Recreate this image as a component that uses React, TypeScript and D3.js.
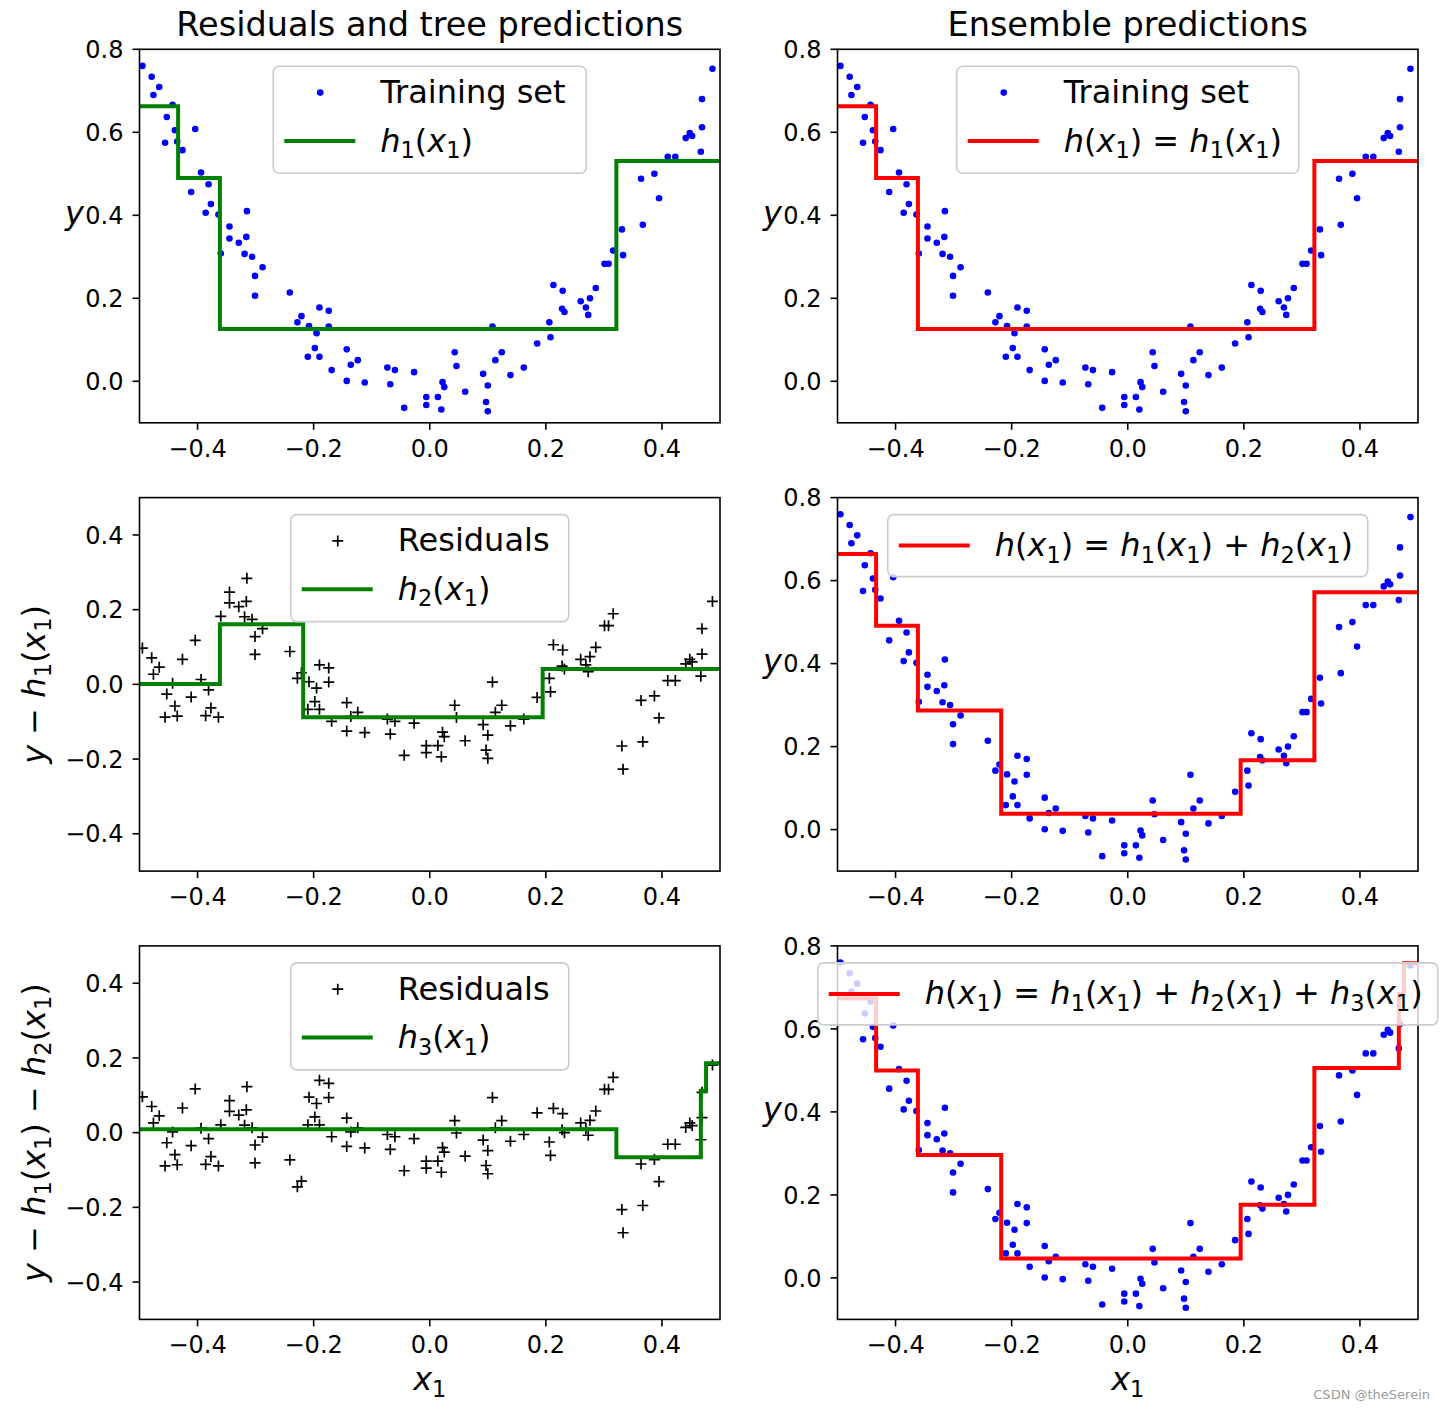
import React from "react";
import * as d3 from "d3";

// ---------- data ----------
const trainX = [
  -0.495, -0.479, -0.466, -0.476, -0.453, -0.439, -0.404, -0.456, -0.435, -0.426,
  -0.394, -0.381, -0.411, -0.377, -0.386, -0.364, -0.315, -0.345, -0.345, -0.329,
  -0.316, -0.36, -0.319, -0.306, -0.288, -0.301, -0.301, -0.241, -0.19, -0.174,
  -0.221, -0.228, -0.208, -0.174, -0.195, -0.198, -0.21, -0.19, -0.169, -0.143,
  -0.124, -0.136, -0.143, -0.112, -0.073, -0.06, -0.068, -0.027, -0.044, -0.006,
  -0.006, 0.014, 0.02, 0.022, 0.025, 0.043, 0.046, 0.061, 0.092, 0.1,
  0.097, 0.1, 0.108, 0.113, 0.124, 0.139, 0.162, 0.185, 0.208, 0.206,
  0.213, 0.229, 0.228, 0.232, 0.26, 0.276, 0.269, 0.273, 0.286, 0.301,
  0.308, 0.316, 0.333, 0.487, 0.469, 0.469, 0.441, 0.448, 0.452, 0.467,
  0.41, 0.423, 0.364, 0.387, 0.395, 0.367, 0.331, -0.443,
];
const trainY = [
  0.76, 0.734, 0.709, 0.69, 0.637, 0.605, 0.608, 0.575, 0.578, 0.557,
  0.503, 0.475, 0.456, 0.427, 0.406, 0.402, 0.41, 0.373, 0.344, 0.334,
  0.348, 0.308, 0.307, 0.3, 0.275, 0.254, 0.206, 0.214, 0.178, 0.17,
  0.157, 0.142, 0.133, 0.132, 0.116, 0.08, 0.059, 0.059, 0.027, 0.077,
  0.051, 0.04, 0.001, -0.003, 0.033, 0.027, -0.007, 0.022, -0.064, -0.038,
  -0.057, -0.038, -0.068, -0.002, -0.014, 0.07, 0.037, -0.025, 0.018, -0.01,
  -0.05, -0.072, 0.132, 0.051, 0.07, 0.015, 0.033, 0.091, 0.106, 0.142,
  0.232, 0.218, 0.175, 0.167, 0.193, 0.2, 0.178, 0.16, 0.225, 0.283,
  0.283, 0.315, 0.304, 0.753, 0.68, 0.612, 0.586, 0.598, 0.591, 0.553,
  0.541, 0.541, 0.488, 0.5, 0.441, 0.377, 0.366, 0.666,
];

// regression trees (depth 2): split thresholds and leaf values
const h1Thresholds = [-0.4335, -0.3615, 0.3215];
const h1Values = [0.663, 0.49, 0.126, 0.531];
const h2Thresholds = [-0.3615, -0.218, 0.1945];
const h2Values = [0.001, 0.161, -0.088, 0.041];
const h3Thresholds = [0.3215, 0.467, 0.476];
const h3Values = [0.009, -0.066, 0.112, 0.186];

const xTicks = [-0.4, -0.2, 0.0, 0.2, 0.4];
const yTicksPred = [0.0, 0.2, 0.4, 0.6, 0.8];
const yTicksRes = [-0.4, -0.2, 0.0, 0.2, 0.4];
const predDomain: [number, number] = [-0.1, 0.8];
const resDomain: [number, number] = [-0.5, 0.5];
const xDomain: [number, number] = [-0.5, 0.5];

const titles = ["Residuals and tree predictions", "Ensemble predictions"];

// ---------- layout ----------
const W = 1445;
const H = 1409;
const AX_W = 580.5;
const AX_H = 373.5;
const COL_X = [139.5, 837.5];
const ROW_Y = [49.3, 497.6, 945.9];
const FONT = "DejaVu Sans";
const TICK_FS = 24;
const BIG_FS = 32;
const TITLE_FS = 33.5;

const fmt = d3.format(".1f");

function tree(th: number[], vals: number[]) {
  return (x: number) => vals[d3.bisectRight(th, x)];
}

function stepPoints(f: (x: number) => number, breaks: number[]): [number, number][] {
  const pts: [number, number][] = [[xDomain[0], f(xDomain[0])]];
  const eps = 1e-9;
  for (const b of breaks) {
    pts.push([b, f(b - eps)]);
    pts.push([b, f(b + eps)]);
  }
  pts.push([xDomain[1], f(xDomain[1])]);
  return pts;
}

type Seg = { t: string; it: boolean; sub: boolean };
function parseMath(s: string): Seg[] {
  const out: Seg[] = [];
  for (let i = 0; i < s.length; i++) {
    const c = s[i];
    if (c === "_") {
      out.push({ t: s[i + 1], it: false, sub: true });
      i++;
      continue;
    }
    const it = /[a-zA-Z]/.test(c);
    const last = out[out.length - 1];
    if (last && !last.sub && last.it === it) last.t += c;
    else out.push({ t: c, it, sub: false });
  }
  return out;
}

function MathText(props: {
  x: number;
  y: number;
  size: number;
  expr: string;
  anchor?: string;
  transform?: string;
}) {
  const { x, y, size, expr, anchor, transform } = props;
  const segs = parseMath(expr);
  let cur = 0;
  return (
    <text
      x={x}
      y={y}
      fontSize={size}
      fontFamily={FONT}
      textAnchor={anchor || "start"}
      transform={transform}
      style={{ whiteSpace: "pre" }}
      fill="#000"
    >
      {segs.map((s, i) => {
        const target = s.sub ? size * 0.2 : 0;
        const dy = target - cur;
        cur = target;
        return (
          <tspan
            key={i}
            dy={dy}
            fontStyle={s.it ? "italic" : "normal"}
            fontSize={s.sub ? size * 0.7 : size}
          >
            {s.t}
          </tspan>
        );
      })}
    </text>
  );
}

type LegendRow = { kind: "dot" | "plus" | "line"; color: string; label: string; math?: boolean };

function Legend(props: { cx: number; top: number; width: number; rows: LegendRow[] }) {
  const { cx, top, width, rows } = props;
  const h = rows.length === 2 ? 107 : 62;
  const x = cx - width / 2;
  const centers = rows.length === 2 ? [26.3, 74.7] : [31];
  return (
    <g>
      <rect
        x={x}
        y={top}
        width={width}
        height={h}
        rx={6}
        ry={6}
        fill="#fff"
        fillOpacity={0.8}
        stroke="#cccccc"
        strokeWidth={1.6}
      />
      {rows.map((r, i) => {
        const cy = top + centers[i];
        let handle: React.ReactNode = null;
        if (r.kind === "dot") handle = <circle cx={x + 47} cy={cy} r={3.3} fill={r.color} />;
        else if (r.kind === "plus")
          handle = (
            <path
              d={`M${x + 41.5},${cy}H${x + 52.5}M${x + 47},${cy - 5.5}V${cy + 5.5}`}
              stroke={r.color}
              strokeWidth={1.7}
              fill="none"
            />
          );
        else
          handle = (
            <line x1={x + 11} x2={x + 82} y1={cy} y2={cy} stroke={r.color} strokeWidth={4} />
          );
        return (
          <g key={i}>
            {handle}
            {r.math ? (
              <MathText x={x + 107} y={cy + 10.5} size={BIG_FS} expr={r.label} />
            ) : (
              <text x={x + 107} y={cy + 10.5} fontSize={BIG_FS} fontFamily={FONT} fill="#000">
                {r.label}
              </text>
            )}
          </g>
        );
      })}
    </g>
  );
}

type PanelSpec = {
  row: number;
  col: number;
  yDomain: [number, number];
  yTicks: number[];
  px: number[];
  py: number[];
  marker: "dot" | "plus";
  model: (x: number) => number;
  breaks: number[];
  lineColor: string;
  legendWidth: number;
  legend: LegendRow[];
  ylabel: string;
  ylabelRot: boolean;
  title?: string;
  xlabel?: string;
};

function Panel({ p }: { p: PanelSpec }) {
  const x0 = COL_X[p.col];
  const y0 = ROW_Y[p.row];
  const xs = d3.scaleLinear().domain(xDomain).range([x0, x0 + AX_W]);
  const ys = d3.scaleLinear().domain(p.yDomain).range([y0 + AX_H, y0]);
  const clipId = `clip-${p.row}-${p.col}`;
  const line = d3
    .line<[number, number]>()
    .x((d) => xs(d[0]))
    .y((d) => ys(d[1]));
  const pathD = line(stepPoints(p.model, p.breaks)) || "";
  const cxm = x0 + AX_W / 2;
  return (
    <g>
      <defs>
        <clipPath id={clipId}>
          <rect x={x0} y={y0} width={AX_W} height={AX_H} />
        </clipPath>
      </defs>
      <g clipPath={`url(#${clipId})`}>
        {p.px.map((xv, i) => {
          const cx = xs(xv);
          const cy = ys(p.py[i]);
          return p.marker === "dot" ? (
            <circle key={i} cx={cx} cy={cy} r={3.3} fill="#0000ff" />
          ) : (
            <path
              key={i}
              d={`M${cx - 5.5},${cy}H${cx + 5.5}M${cx},${cy - 5.5}V${cy + 5.5}`}
              stroke="#000"
              strokeWidth={1.7}
              fill="none"
            />
          );
        })}
        <path d={pathD} fill="none" stroke={p.lineColor} strokeWidth={4} />
      </g>
      <rect x={x0} y={y0} width={AX_W} height={AX_H} fill="none" stroke="#000" strokeWidth={1.6} />
      {xTicks.map((t) => (
        <g key={`xt${t}`}>
          <line x1={xs(t)} x2={xs(t)} y1={y0 + AX_H} y2={y0 + AX_H + 7} stroke="#000" strokeWidth={1.6} />
          <text
            x={xs(t)}
            y={y0 + AX_H + 34}
            fontSize={TICK_FS}
            fontFamily={FONT}
            textAnchor="middle"
            fill="#000"
          >
            {fmt(t)}
          </text>
        </g>
      ))}
      {p.yTicks.map((t) => (
        <g key={`yt${t}`}>
          <line x1={x0 - 7} x2={x0} y1={ys(t)} y2={ys(t)} stroke="#000" strokeWidth={1.6} />
          <text
            x={x0 - 16}
            y={ys(t) + 8.7}
            fontSize={TICK_FS}
            fontFamily={FONT}
            textAnchor="end"
            fill="#000"
          >
            {fmt(t)}
          </text>
        </g>
      ))}
      {p.ylabelRot ? (
        <MathText
          x={45}
          y={y0 + AX_H / 2}
          size={BIG_FS}
          expr={p.ylabel}
          anchor="middle"
          transform={`rotate(-90, 45, ${y0 + AX_H / 2})`}
        />
      ) : (
        <MathText x={x0 - 65} y={y0 + 174.5} size={BIG_FS} expr={p.ylabel} anchor="middle" />
      )}
      {p.title && (
        <text x={cxm} y={y0 - 13} fontSize={TITLE_FS} fontFamily={FONT} textAnchor="middle" fill="#000">
          {p.title}
        </text>
      )}
      {p.xlabel && <MathText x={cxm} y={y0 + AX_H + 71} size={BIG_FS} expr={p.xlabel} anchor="middle" />}
      <Legend cx={cxm} top={y0 + 17} width={p.legendWidth} rows={p.legend} />
    </g>
  );
}

export default function App() {
  const h1 = tree(h1Thresholds, h1Values);
  const h2 = tree(h2Thresholds, h2Values);
  const h3 = tree(h3Thresholds, h3Values);
  const res1 = trainY.map((y, i) => y - h1(trainX[i]));
  const res2 = res1.map((r, i) => r - h2(trainX[i]));
  const ens2 = (x: number) => h1(x) + h2(x);
  const ens3 = (x: number) => h1(x) + h2(x) + h3(x);
  const br12 = Array.from(new Set([...h1Thresholds, ...h2Thresholds])).sort((a, b) => a - b);
  const br123 = Array.from(new Set([...h1Thresholds, ...h2Thresholds, ...h3Thresholds])).sort(
    (a, b) => a - b
  );

  const panels: PanelSpec[] = [
    {
      row: 0, col: 0, yDomain: predDomain, yTicks: yTicksPred, px: trainX, py: trainY, marker: "dot",
      model: h1, breaks: h1Thresholds, lineColor: "#008000", legendWidth: 313,
      legend: [
        { kind: "dot", color: "#0000ff", label: "Training set" },
        { kind: "line", color: "#008000", label: "h_1(x_1)", math: true },
      ],
      ylabel: "y", ylabelRot: false, title: titles[0],
    },
    {
      row: 0, col: 1, yDomain: predDomain, yTicks: yTicksPred, px: trainX, py: trainY, marker: "dot",
      model: h1, breaks: h1Thresholds, lineColor: "#ff0000", legendWidth: 342,
      legend: [
        { kind: "dot", color: "#0000ff", label: "Training set" },
        { kind: "line", color: "#ff0000", label: "h(x_1) = h_1(x_1)", math: true },
      ],
      ylabel: "y", ylabelRot: false, title: titles[1],
    },
    {
      row: 1, col: 0, yDomain: resDomain, yTicks: yTicksRes, px: trainX, py: res1, marker: "plus",
      model: h2, breaks: h2Thresholds, lineColor: "#008000", legendWidth: 278,
      legend: [
        { kind: "plus", color: "#000", label: "Residuals" },
        { kind: "line", color: "#008000", label: "h_2(x_1)", math: true },
      ],
      ylabel: "y \u2212 h_1(x_1)", ylabelRot: true,
    },
    {
      row: 1, col: 1, yDomain: predDomain, yTicks: yTicksPred, px: trainX, py: trainY, marker: "dot",
      model: ens2, breaks: br12, lineColor: "#ff0000", legendWidth: 480,
      legend: [{ kind: "line", color: "#ff0000", label: "h(x_1) = h_1(x_1) + h_2(x_1)", math: true }],
      ylabel: "y", ylabelRot: false,
    },
    {
      row: 2, col: 0, yDomain: resDomain, yTicks: yTicksRes, px: trainX, py: res2, marker: "plus",
      model: h3, breaks: h3Thresholds, lineColor: "#008000", legendWidth: 278,
      legend: [
        { kind: "plus", color: "#000", label: "Residuals" },
        { kind: "line", color: "#008000", label: "h_3(x_1)", math: true },
      ],
      ylabel: "y \u2212 h_1(x_1) \u2212 h_2(x_1)", ylabelRot: true, xlabel: "x_1",
    },
    {
      row: 2, col: 1, yDomain: predDomain, yTicks: yTicksPred, px: trainX, py: trainY, marker: "dot",
      model: ens3, breaks: br123, lineColor: "#ff0000", legendWidth: 620,
      legend: [
        { kind: "line", color: "#ff0000", label: "h(x_1) = h_1(x_1) + h_2(x_1) + h_3(x_1)", math: true },
      ],
      ylabel: "y", ylabelRot: false, xlabel: "x_1",
    },
  ];

  return (
    <svg
      width={W}
      height={H}
      viewBox={`0 0 ${W} ${H}`}
      style={{ position: "absolute", left: 0, top: 0, background: "#fff" }}
    >
      <rect x={0} y={0} width={W} height={H} fill="#fff" />
      {panels.map((p, i) => (
        <Panel key={i} p={p} />
      ))}
      <text x={1430} y={1399} fontSize={13} fontFamily={FONT} textAnchor="end" fill="#9a9a9a">
        CSDN @theSerein
      </text>
    </svg>
  );
}
